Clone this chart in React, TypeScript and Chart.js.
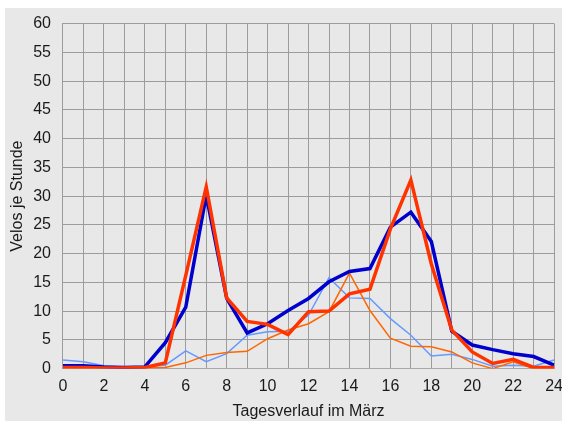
import React, { useEffect, useRef } from "react";
import { Chart, registerables } from "chart.js";

Chart.register(...registerables);

const hours = [0,1,2,3,4,5,6,7,8,9,10,11,12,13,14,15,16,17,18,19,20,21,22,23,24];
const darkBlue = [0.5,0.5,0.3,0.2,0.3,4.5,10.7,30.1,12.2,6.2,7.8,10.1,12.2,15.1,16.9,17.4,24.6,27.2,22.1,6.5,4.1,3.3,2.6,2.1,0.6];
const red = [0.2,0.2,0.1,0.1,0.2,1.0,16.2,31.6,12.3,8.2,7.7,5.9,9.9,10.0,13.0,13.8,24.3,32.8,18.2,6.7,2.9,0.9,1.6,0.2,0.2];
const lightBlue = [1.5,1.2,0.5,0.2,0.3,0.6,3.1,1.2,2.6,5.8,6.4,6.5,9.3,15.8,12.3,12.2,8.7,5.8,2.2,2.5,1.6,0.4,0.6,0.4,1.5];
const orange = [0.2,0.1,0.1,0.1,0.1,0.2,1.0,2.3,2.8,3.0,5.2,6.7,7.8,9.9,16.6,10.1,5.3,3.9,3.8,2.9,1.0,0.0,1.2,0.0,0.0];

const xTitle = "Tagesverlauf im März";
const yTitle = "Velos je Stunde";

const toPts = (vals: number[]) => vals.map((v, i) => ({ x: hours[i], y: v }));

export default function App() {
  const ref = useRef<HTMLCanvasElement>(null);
  useEffect(() => {
    if (!ref.current) return;
    const font = "'Liberation Sans', Arial, sans-serif";
    const chart = new Chart(ref.current, {
      type: "line",
      data: {
        datasets: [
          { label: "a", data: toPts(red), borderColor: "#ff3300", borderWidth: 3.5, pointRadius: 0, order: 0, tension: 0 },
          { label: "b", data: toPts(darkBlue), borderColor: "#0000cc", borderWidth: 3.5, pointRadius: 0, order: 1, tension: 0 },
          { label: "c", data: toPts(orange), borderColor: "#ff6600", borderWidth: 1.5, pointRadius: 0, order: 2, tension: 0 },
          { label: "d", data: toPts(lightBlue), borderColor: "#6699ff", borderWidth: 1.5, pointRadius: 0, order: 3, tension: 0 },
        ],
      },
      options: {
        animation: false,
        responsive: false,
        maintainAspectRatio: false,
        layout: { padding: { top: 0, left: 0, right: 0, bottom: 0 } },
        plugins: { legend: { display: false }, tooltip: { enabled: false } },
        scales: {
          x: {
            type: "linear",
            min: 0,
            max: 24,
            ticks: {
              stepSize: 1,
              autoSkip: false,
              maxRotation: 0,
              color: "#1a1a1a",
              font: { family: font, size: 16 },
              padding: 8,
              callback: (v: any) => (Number(v) % 2 === 0 ? String(v) : ""),
            },
            grid: { color: "#9c9c9c", lineWidth: 1, drawTicks: false },
            border: { color: "#a8a8a8", width: 1 },
            title: { display: true, text: xTitle, color: "#1a1a1a", font: { family: font, size: 16 }, padding: { top: -2, bottom: 0 } },
          },
          y: {
            min: 0,
            max: 60,
            ticks: {
              stepSize: 5,
              color: "#1a1a1a",
              font: { family: font, size: 16 },
              padding: 12,
            },
            grid: { color: "#9c9c9c", lineWidth: 1, drawTicks: false },
            border: { color: "#9c9c9c", width: 1 },
            title: { display: true, text: yTitle, color: "#1a1a1a", font: { family: font, size: 16 }, padding: { top: 3, bottom: -6 } },
          },
        },
      },
    });
    return () => chart.destroy();
  }, []);
  return (
    <div style={{ position: "absolute", left: 5, top: 8, width: 557, height: 413, background: "#e8e8e8", overflow: "hidden" }}>
      <canvas ref={ref} width={566} height={419} style={{ display: "block", position: "absolute", left: 0, top: -6 }} />
    </div>
  );
}
